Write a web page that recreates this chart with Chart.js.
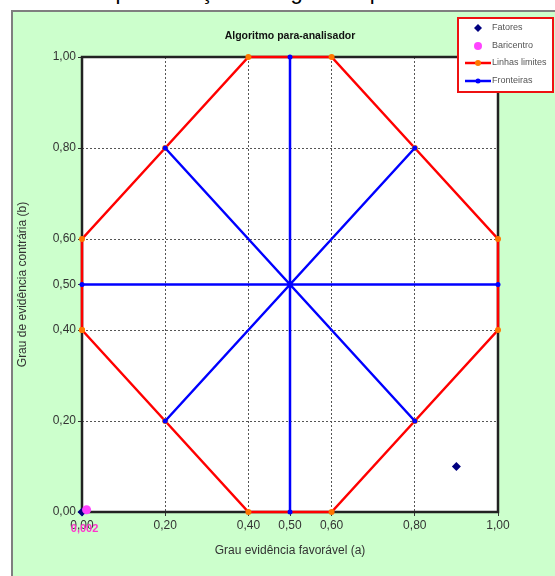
<!DOCTYPE html>
<html>
<head>
<meta charset="utf-8">
<script src="https://cdn.jsdelivr.net/npm/chart.js@4.4.1/dist/chart.umd.min.js"></script>
<style>
  body { margin: 0; background: #fff; width: 555px; height: 576px; overflow: hidden; position: relative; font-family: "Liberation Sans", Arial, sans-serif; }
  #cap { position: absolute; left: 0; top: 0; width: 555px; height: 10px; overflow: hidden; }
  #cap span { position: absolute; left: -8px; top: -19px; font-size: 22px; line-height: 22px; white-space: nowrap; color: #000; }
  #panel { position: absolute; left: 11px; top: 10px; width: 542px; height: 564px; border-left: 2px solid #7f7f7f; border-top: 2px solid #7f7f7f; background: #ccffcc; }
  canvas { position: absolute; left: 0; top: 0; }
</style>
</head>
<body>
<div id="cap"><span>Gráfico – Representação do algoritmo para-analisador</span></div>
<div id="panel"><canvas id="c" width="542" height="564"></canvas></div>
<script>
// eixos
const tickVals = [0, 0.2, 0.4, 0.5, 0.6, 0.8, 1];
const gridVals = [0.2, 0.4, 0.6, 0.8];

// Fatores
const fatoresX = [0, 0.9];
const fatoresY = [0, 0.1];

// Baricentro
const baricentroX = [0.011];
const baricentroY = [0.005];
const baricentroLabel = ["0,002"];

// Linhas limites (octógono)
const limitesX = [0, 0, 0.2, 0.4, 0.6, 0.8, 1, 1, 0.8, 0.6, 0.4, 0.2, 0];
const limitesY = [0.4, 0.6, 0.8, 1, 1, 0.8, 0.6, 0.4, 0.2, 0, 0, 0.2, 0.4];

// Fronteiras (null = quebra da linha)
const fronteirasX = [0.5, 0.5, null, 0, 1, null, 0.2, 0.8, null, 0.2, 0.8];
const fronteirasY = [0, 1, null, 0.5, 0.5, null, 0.2, 0.8, null, 0.8, 0.2];

const toPts = (xs, ys) => xs.map((x, i) => ({ x: x, y: ys[i] }));
const fmt = v => Number(v).toFixed(2).replace(".", ",");

const bgPlugin = {
    id: "bg",
    beforeDraw(chart) {
        const { ctx, chartArea: a } = chart;
        ctx.save();
        ctx.fillStyle = "#ccffcc";
        ctx.fillRect(0, 0, chart.width, chart.height);
        ctx.fillStyle = "#ffffff";
        ctx.fillRect(a.left, a.top, a.right - a.left, a.bottom - a.top);
        ctx.restore();
    },
    beforeDatasetsDraw(chart) {
        const { ctx, chartArea: a } = chart;
        ctx.save();
        ctx.strokeStyle = "#222";
        ctx.lineWidth = 2.5;
        ctx.strokeRect(a.left, a.top, a.right - a.left, a.bottom - a.top);
        ctx.restore();
    },
    afterDraw(chart) {
        const ctx = chart.ctx;
        ctx.save();
        // titulo
        ctx.fillStyle = "#111";
        ctx.font = "bold 10.5px 'Liberation Sans', Arial";
        ctx.textAlign = "center";
        ctx.textBaseline = "middle";
        ctx.fillText("Algoritmo para-analisador", 277, 24);

        // rotulo do baricentro
        const bm = chart.getDatasetMeta(1);
        ctx.fillStyle = "#ff33cc";
        ctx.font = "bold 11px 'Liberation Sans', Arial";
        bm.data.forEach((p, i) => ctx.fillText(baricentroLabel[i], p.x - 2, p.y + 19));

        // legenda
        ctx.fillStyle = "#fff";
        ctx.fillRect(445, 6, 95, 74);
        ctx.strokeStyle = "#ee1111";
        ctx.lineWidth = 2;
        ctx.strokeRect(445, 6, 95, 74);
        const rows = [16, 34, 51, 69];
        ctx.font = "9px 'Liberation Sans', Arial";
        ctx.textAlign = "left";
        chart.data.datasets.forEach((ds, i) => {
            const y = rows[i];
            if (ds.showLine) {
                ctx.strokeStyle = ds.borderColor;
                ctx.lineWidth = 2.5;
                ctx.beginPath();
                ctx.moveTo(452, y);
                ctx.lineTo(478, y);
                ctx.stroke();
            }
            ctx.fillStyle = ds.pointBackgroundColor;
            ctx.strokeStyle = ds.pointBackgroundColor;
            Chart.helpers.drawPoint(ctx, { pointStyle: ds.pointStyle, radius: Math.min(ds.pointRadius, 4), borderWidth: 0, rotation: 0 }, 465, y);
            ctx.fillStyle = "#555";
            ctx.fillText(ds.label, 479, y);
        });
        ctx.restore();
    }
};

const axis = (title, titlePad, fitKey, fitVal) => ({
    type: "linear",
    min: 0,
    max: 1,
    afterBuildTicks: s => { s.ticks = tickVals.map(v => ({ value: v })); },
    afterFit: s => { s[fitKey] = fitVal; },
    ticks: {
        color: "#333",
        font: { size: 12, family: "'Liberation Sans', Arial" },
        padding: 2,
        autoSkip: false,
        maxRotation: 0,
        callback: v => fmt(v)
    },
    grid: {
        color: c => gridVals.includes(Math.round(c.tick.value * 100) / 100) ? "#555" : "rgba(0,0,0,0)",
        tickColor: "#333",
        tickLength: 4,
        lineWidth: 1
    },
    border: { display: false, dash: [2, 2] },
    title: {
        display: true,
        text: title,
        color: "#333",
        font: { size: 12, family: "'Liberation Sans', Arial" },
        padding: titlePad
    }
});

new Chart(document.getElementById("c"), {
    type: "scatter",
    data: {
        datasets: [
            {
                label: "Fatores",
                data: toPts(fatoresX, fatoresY),
                pointStyle: "rectRot",
                pointRadius: 4.5,
                pointBackgroundColor: "#000080",
                pointBorderWidth: 0,
                showLine: false,
                clip: false,
                order: 1
            },
            {
                label: "Baricentro",
                data: toPts(baricentroX, baricentroY),
                pointStyle: "circle",
                pointRadius: 4.5,
                pointBackgroundColor: "#ff44ff",
                pointBorderWidth: 0,
                showLine: false,
                clip: false,
                order: 0
            },
            {
                label: "Linhas limites",
                data: toPts(limitesX, limitesY),
                showLine: true,
                borderColor: "#ff0000",
                borderWidth: 2.5,
                pointStyle: "circle",
                pointRadius: 3,
                pointBackgroundColor: "#ff7700",
                pointBorderWidth: 0,
                clip: false,
                order: 3
            },
            {
                label: "Fronteiras",
                data: toPts(fronteirasX, fronteirasY),
                showLine: true,
                spanGaps: false,
                borderColor: "#0000ff",
                borderWidth: 2.5,
                pointStyle: "circle",
                pointRadius: 2.5,
                pointBackgroundColor: "#0000ff",
                pointBorderWidth: 0,
                clip: false,
                order: 2
            }
        ]
    },
    options: {
        responsive: false,
        animation: false,
        layout: { padding: { top: 45, right: 57, left: 0, bottom: 0 } },
        plugins: {
            legend: { display: false },
            tooltip: { enabled: false }
        },
        scales: {
            x: axis("Grau evidência favorável (a)", { top: 0, bottom: 18 }, "height", 64),
            y: axis("Grau de evidência contrária (b)", { top: 2, bottom: 0 }, "width", 69)
        }
    },
    plugins: [bgPlugin]
});
</script>
</body>
</html>
